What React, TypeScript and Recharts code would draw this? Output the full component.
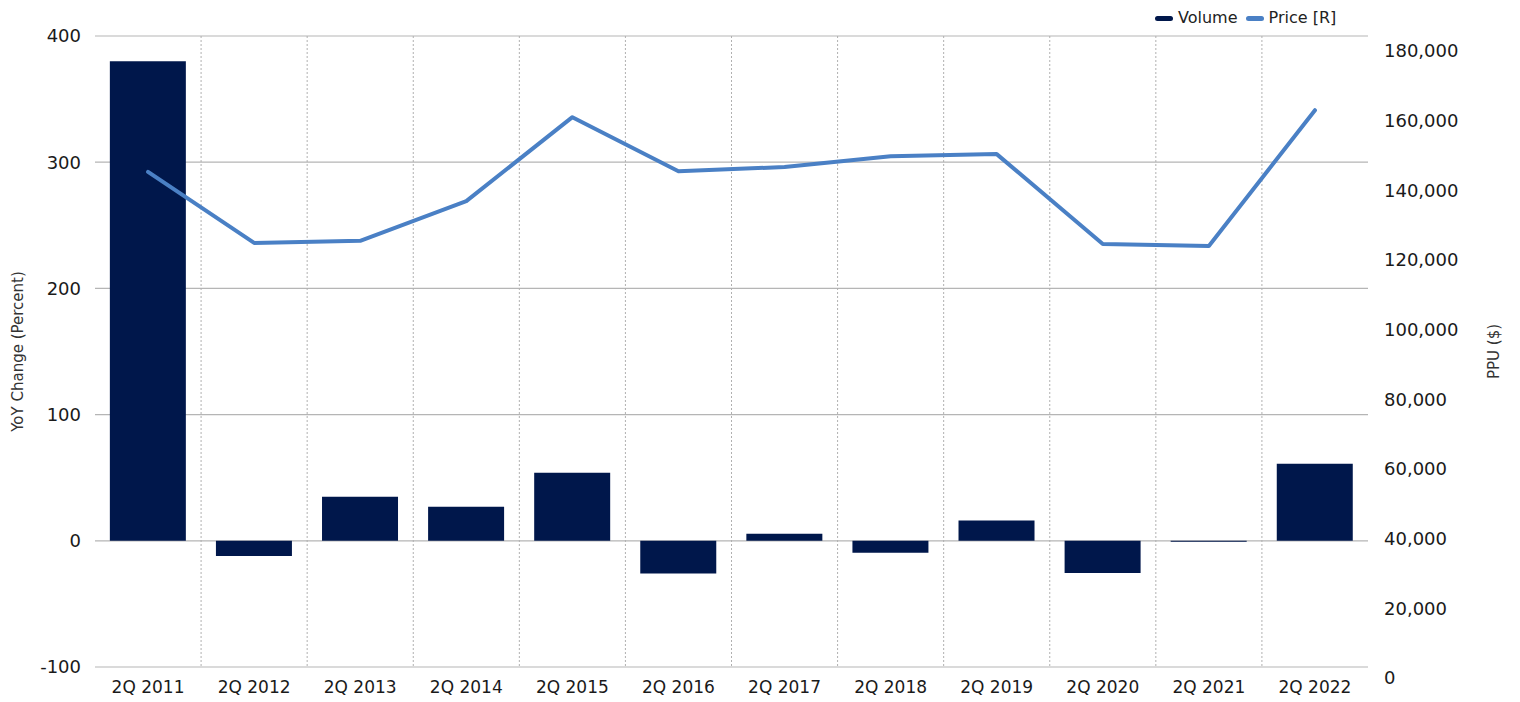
import React from "react";
import {
  ComposedChart,
  Bar,
  Line,
  XAxis,
  YAxis,
  CartesianGrid,
  Label,
} from "recharts";

const quarters = [
  "2Q 2011",
  "2Q 2012",
  "2Q 2013",
  "2Q 2014",
  "2Q 2015",
  "2Q 2016",
  "2Q 2017",
  "2Q 2018",
  "2Q 2019",
  "2Q 2020",
  "2Q 2021",
  "2Q 2022",
];
const volumeChange = [380, -12, 35, 27, 54, -26, 5.5, -9.5, 16, -25.5, -0.8, 61];
const pricePerUnit = [
  145300, 124900, 125500, 136900, 161000, 145500, 146700, 149800, 150400, 124600,
  124000, 163000,
];
const leftTicks = [-100, 0, 100, 200, 300, 400];
const rightTicks = [0, 20000, 40000, 60000, 80000, 100000, 120000, 140000, 160000, 180000];

const NAVY = "#00174b";
const BLUE = "#4a80c5";
const FONT = "'DejaVu Sans', sans-serif";

const data = quarters.map((q, i) => ({
  quarter: q,
  volume: volumeChange[i],
  price: pricePerUnit[i],
}));

const fmt = (v: number) => v.toLocaleString("en-US");

function Legend() {
  const item = (color: string, text: string, gap: number) => (
    <div style={{ display: "flex", alignItems: "center", marginLeft: gap }}>
      <span
        style={{
          display: "inline-block",
          width: 18,
          height: 5,
          borderRadius: 3,
          background: color,
          marginRight: 5,
        }}
      />
      <span style={{ fontSize: 16, color: "#222", lineHeight: "20px" }}>{text}</span>
    </div>
  );
  return (
    <div
      style={{
        position: "absolute",
        top: 8,
        left: 1155,
        display: "flex",
        fontFamily: FONT,
      }}
    >
      {item(NAVY, "Volume", 0)}
      {item(BLUE, "Price [R]", 8)}
    </div>
  );
}

export default function App() {
  return (
    <div
      style={{
        position: "absolute",
        left: 0,
        top: 0,
        width: 1520,
        height: 702,
        background: "#fff",
        fontFamily: FONT,
      }}
    >
      <Legend />
      <ComposedChart
        width={1520}
        height={702}
        data={data}
        margin={{ top: 36, right: 0, bottom: 0, left: 0 }}
        barCategoryGap="14%"
      >
        <CartesianGrid vertical={false} stroke="#b5b5b5" strokeWidth={1.2} yAxisId="left" />
        <CartesianGrid
          horizontal={false}
          stroke="#b0b0b0"
          strokeDasharray="2 2"
          verticalCoordinatesGenerator={({ offset }: any) => {
            const w = offset.width / quarters.length;
            return quarters.slice(1).map((_, i) => offset.left + w * (i + 1));
          }}
        />
        <XAxis
          dataKey="quarter"
          height={35}
          axisLine={false}
          tickLine={false}
          tickSize={0}
          tickMargin={14}
          tick={{ fontSize: 17, fill: "#1a1a1a", fontFamily: FONT }}
          interval={0}
        />
        <YAxis
          yAxisId="left"
          width={95}
          domain={[-100, 400]}
          ticks={leftTicks}
          axisLine={false}
          tickLine={false}
          tickSize={0}
          tickMargin={14}
          tick={{ fontSize: 18, fill: "#1a1a1a", fontFamily: FONT }}
        >
          <Label
            value="YoY Change (Percent)"
            angle={-90}
            position="insideLeft"
            offset={18}
            style={{ fontSize: 15, fill: "#333", fontFamily: FONT, textAnchor: "middle" }}
          />
        </YAxis>
        <YAxis
          yAxisId="right"
          orientation="right"
          width={152}
          domain={[0, 180000]}
          ticks={rightTicks}
          padding={{ top: 15, bottom: -11 }}
          axisLine={false}
          tickLine={false}
          tickSize={0}
          tickMargin={16}
          tickFormatter={fmt}
          tick={{ fontSize: 18, fill: "#1a1a1a", fontFamily: FONT }}
        >
          <Label
            value="PPU ($)"
            angle={-90}
            position="insideRight"
            offset={26}
            style={{ fontSize: 15, fill: "#333", fontFamily: FONT, textAnchor: "middle" }}
          />
        </YAxis>
        <Bar yAxisId="left" dataKey="volume" fill={NAVY} isAnimationActive={false} />
        <Line
          yAxisId="right"
          dataKey="price"
          stroke={BLUE}
          strokeWidth={4}
          strokeLinecap="round"
          strokeLinejoin="round"
          dot={false}
          activeDot={false}
          type="linear"
          isAnimationActive={false}
        />
      </ComposedChart>
    </div>
  );
}
